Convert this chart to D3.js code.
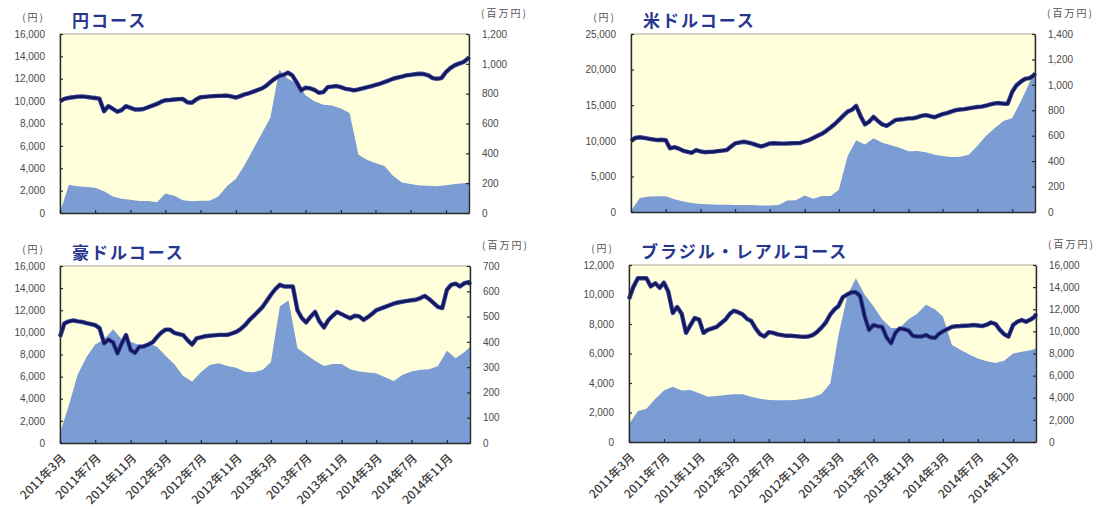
<!DOCTYPE html>
<html>
<head>
<meta charset="utf-8">
<script src="https://cdn.jsdelivr.net/npm/d3@7"></script>
<style>
  body { margin: 0; background: #fff; }
  svg { display: block; }
</style>
</head>
<body>
<div id="chart"></div>
<script>
// net assets are read monthly (first of month) plus the last valuation date
const months = [
  "2011-03-01","2011-04-01","2011-05-01","2011-06-01","2011-07-01","2011-08-01",
  "2011-09-01","2011-10-01","2011-11-01","2011-12-01","2012-01-01","2012-02-01",
  "2012-03-01","2012-04-01","2012-05-01","2012-06-01","2012-07-01","2012-08-01",
  "2012-09-01","2012-10-01","2012-11-01","2012-12-01","2013-01-01","2013-02-01",
  "2013-03-01","2013-04-01","2013-05-01","2013-06-01","2013-07-01","2013-08-01",
  "2013-09-01","2013-10-01","2013-11-01","2013-12-01","2014-01-01","2014-02-01",
  "2014-03-01","2014-04-01","2014-05-01","2014-06-01","2014-07-01","2014-08-01",
  "2014-09-01","2014-10-01","2014-11-01","2014-12-01","2015-01-01","2015-01-20"
];

// prices are read twice a month, one row = four months
const halfMonths = [
  "2011-03-01","2011-03-16","2011-04-01","2011-04-16","2011-05-01","2011-05-16","2011-06-01","2011-06-16",
  "2011-07-01","2011-07-16","2011-08-01","2011-08-16","2011-09-01","2011-09-16","2011-10-01","2011-10-16",
  "2011-11-01","2011-11-16","2011-12-01","2011-12-16","2012-01-01","2012-01-16","2012-02-01","2012-02-16",
  "2012-03-01","2012-03-16","2012-04-01","2012-04-16","2012-05-01","2012-05-16","2012-06-01","2012-06-16",
  "2012-07-01","2012-07-16","2012-08-01","2012-08-16","2012-09-01","2012-09-16","2012-10-01","2012-10-16",
  "2012-11-01","2012-11-16","2012-12-01","2012-12-16","2013-01-01","2013-01-16","2013-02-01","2013-02-16",
  "2013-03-01","2013-03-16","2013-04-01","2013-04-16","2013-05-01","2013-05-16","2013-06-01","2013-06-16",
  "2013-07-01","2013-07-16","2013-08-01","2013-08-16","2013-09-01","2013-09-16","2013-10-01","2013-10-16",
  "2013-11-01","2013-11-16","2013-12-01","2013-12-16","2014-01-01","2014-01-16","2014-02-01","2014-02-16",
  "2014-03-01","2014-03-16","2014-04-01","2014-04-16","2014-05-01","2014-05-16","2014-06-01","2014-06-16",
  "2014-07-01","2014-07-16","2014-08-01","2014-08-16","2014-09-01","2014-09-16","2014-10-01","2014-10-16",
  "2014-11-01","2014-11-16","2014-12-01","2014-12-16","2015-01-01","2015-01-16","2015-01-20"
];

// x axis ticks
const tickDates = ["2011-03-01","2011-07-01","2011-11-01","2012-03-01","2012-07-01","2012-11-01",
                   "2013-03-01","2013-07-01","2013-11-01","2014-03-01","2014-07-01","2014-11-01"];
const tickLabels = ["2011年3月","2011年7月","2011年11月","2012年3月","2012年7月","2012年11月",
                    "2013年3月","2013年7月","2013年11月","2014年3月","2014年7月","2014年11月"];

// 基準価額 (円, left axis)
const yenPrice = [
  10000,10200,10300,10350,10400,10420,10380,10320,
  10280,10220,9100,9550,9300,9050,9200,9550,
  9400,9250,9250,9300,9450,9600,9750,9950,
  10080,10100,10150,10180,10200,9900,9850,10150,
  10350,10380,10420,10450,10470,10480,10500,10420,
  10320,10450,10600,10700,10850,11000,11150,11400,
  11700,12000,12250,12350,12550,12300,11650,10950,
  11200,11150,11000,10750,10800,11250,11300,11350,
  11250,11100,11050,10960,11050,11150,11250,11350,
  11450,11550,11700,11850,12000,12100,12200,12300,
  12350,12400,12450,12420,12300,12050,12000,12050,
  12600,12950,13200,13350,13500,13800,13950
];
const usdPrice = [
  10000,10400,10500,10400,10300,10200,10100,10150,
  10100,8950,9100,8900,8600,8450,8320,8700,
  8500,8400,8450,8460,8550,8620,8700,9200,
  9630,9750,9870,9750,9600,9400,9200,9400,
  9630,9650,9630,9600,9630,9650,9680,9700,
  9900,10100,10400,10700,11000,11400,11900,12400,
  12900,13500,14100,14350,14900,13500,12300,12700,
  13350,12800,12300,12100,12500,12900,13000,13050,
  13150,13150,13300,13500,13600,13450,13300,13550,
  13750,13900,14100,14300,14400,14450,14550,14650,
  14750,14800,14950,15100,15250,15300,15200,15200,
  16900,17800,18300,18700,18800,19200,19500
];
const audPrice = [
  9600,10800,11000,11080,11000,10950,10830,10750,
  10650,10380,9000,9350,9100,8100,9000,9750,
  8400,8150,8700,8720,8900,9100,9600,10000,
  10250,10250,9950,9850,9750,9300,8900,9450,
  9550,9650,9700,9730,9770,9770,9770,9900,
  10050,10300,10650,11100,11500,11900,12330,12900,
  13400,13900,14300,14150,14150,14150,12000,11300,
  10900,11400,11850,11000,10450,11100,11500,11850,
  11650,11450,11280,11500,11450,11130,11400,11700,
  12000,12150,12300,12450,12600,12700,12780,12850,
  12900,12950,13100,13300,13000,12650,12300,12200,
  13850,14300,14400,14150,14450,14550,14300
];
const brlPrice = [
  9700,10500,11100,11100,11100,10550,10760,10450,
  10800,10200,8750,9150,8700,7400,7900,8400,
  8300,7400,7600,7700,7800,8050,8300,8700,
  8900,8800,8650,8350,8200,7700,7300,7150,
  7450,7400,7300,7250,7200,7200,7180,7150,
  7130,7150,7250,7450,7750,8100,8650,9000,
  9200,9800,10000,10150,10150,9900,8500,7600,
  7930,7850,7800,7100,6700,7400,7700,7650,
  7550,7200,7150,7150,7250,7100,7050,7350,
  7500,7650,7800,7850,7860,7880,7900,7930,
  7900,7860,7950,8100,8000,7600,7300,7150,
  7930,8150,8270,8150,8300,8500,8700
];

// 純資産総額 (百万円, right axis)
const yenAssets = [5,190,180,175,170,145,110,95,88,80,80,72,
                   130,115,85,78,82,82,110,180,230,320,430,540,
                   640,960,900,870,790,750,725,720,700,670,390,355,
                   335,315,250,205,195,185,182,180,186,195,200,205];
const usdAssets = [10,110,122,124,124,100,82,70,62,60,58,58,
                   56,55,55,52,52,55,90,92,130,105,125,125,
                   175,440,565,530,580,545,525,505,478,480,470,450,
                   440,432,434,450,520,600,660,715,740,870,1020,1100];
const audAssets = [40,150,270,340,390,410,450,410,400,388,395,380,
                   345,310,265,243,280,308,315,305,298,282,280,290,
                   320,540,565,375,350,325,305,312,312,292,283,279,
                   276,260,245,270,283,290,292,305,365,335,360,380];
const brlAssets = [1600,2800,3000,3900,4650,5000,4650,4700,4400,4100,4150,4250,
                   4320,4320,4100,3900,3800,3770,3770,3800,3900,4050,4350,5300,
                   9600,13200,14800,13300,12300,11100,10300,10300,11100,11600,12400,12000,
                   11350,8800,8350,7900,7550,7300,7150,7350,8000,8150,8300,8450];

const titles = ["円コース", "米ドルコース", "豪ドルコース", "ブラジル・レアルコース"];

const width = 1102, height = 506;
const parse = d3.timeParse("%Y-%m-%d");
const monthDays = months.map(parse);
const halfDays = halfMonths.map(parse);
const ticks = tickDates.map(parse);

const panels = [
  { title: titles[0], price: yenPrice, assets: yenAssets, leftMax: 16000, leftStep: 2000, rightMax: 1200, rightStep: 200,
    left: 60, top: 34, w: 409, h: 179, labels: false },
  { title: titles[1], price: usdPrice, assets: usdAssets, leftMax: 25000, leftStep: 5000, rightMax: 1400, rightStep: 200,
    left: 631, top: 34, w: 404, h: 178, labels: false },
  { title: titles[2], price: audPrice, assets: audAssets, leftMax: 16000, leftStep: 2000, rightMax: 700, rightStep: 100,
    left: 60, top: 266, w: 410, h: 177, labels: true },
  { title: titles[3], price: brlPrice, assets: brlAssets, leftMax: 12000, leftStep: 2000, rightMax: 16000, rightStep: 2000,
    left: 629, top: 265, w: 407, h: 177, labels: true }
];

const svg = d3.select("#chart")
  .append("svg")
  .attr("width", width)
  .attr("height", height);

const numFont = "'Liberation Sans', Arial, sans-serif";
const jpFont = "'Noto Sans CJK JP', sans-serif";

panels.forEach(p => {
  const g = svg.append("g").attr("transform", `translate(${p.left},${p.top})`);

  const x = d3.scaleTime().domain([monthDays[0], monthDays[monthDays.length - 1]]).range([0, p.w]);
  const yL = d3.scaleLinear().domain([0, p.leftMax]).range([p.h, 0]);
  const yR = d3.scaleLinear().domain([0, p.rightMax]).range([p.h, 0]);

  // plot background
  g.append("rect")
    .attr("width", p.w)
    .attr("height", p.h)
    .attr("fill", "#ffffdc")
    .attr("stroke", "#a8a590")
    .attr("stroke-width", 1);

  // net assets area
  const area = d3.area()
    .x((d, i) => x(monthDays[i]))
    .y0(p.h)
    .y1(d => yR(d));
  g.append("path")
    .datum(p.assets)
    .attr("d", area)
    .attr("fill", "#7c9dd3");

  // price line, drawn twice for the soft edge of the original
  const line = d3.line()
    .x((d, i) => x(halfDays[i]))
    .y(d => yL(d));
  g.append("path")
    .datum(p.price)
    .attr("d", line)
    .attr("fill", "none")
    .attr("stroke", "#3c4aa0")
    .attr("stroke-width", 4.4)
    .attr("stroke-linejoin", "round");
  g.append("path")
    .datum(p.price)
    .attr("d", line)
    .attr("fill", "none")
    .attr("stroke", "#14165c")
    .attr("stroke-width", 2.6)
    .attr("stroke-linejoin", "round");

  // axes
  const left = g.append("g")
    .call(d3.axisLeft(yL)
      .tickValues(d3.range(0, p.leftMax + 1, p.leftStep))
      .tickFormat(d3.format(","))
      .tickSizeInner(-3).tickSizeOuter(0).tickPadding(15));

  const right = g.append("g")
    .attr("transform", `translate(${p.w},0)`)
    .call(d3.axisRight(yR)
      .tickValues(d3.range(0, p.rightMax + 1, p.rightStep))
      .tickFormat(d3.format(","))
      .tickSizeInner(-3).tickSizeOuter(0).tickPadding(13));

  const bottom = g.append("g")
    .attr("transform", `translate(0,${p.h})`)
    .call(d3.axisBottom(x)
      .tickValues(ticks)
      .tickFormat((d, i) => p.labels ? tickLabels[i] : "")
      .tickSizeInner(-3).tickSizeOuter(0));

  [left, right, bottom].forEach(a => {
    a.select(".domain").attr("stroke", "#2a2a2a").attr("stroke-width", 1.4);
    a.selectAll(".tick line").attr("stroke", "#2a2a2a").attr("stroke-width", 1.2);
    a.selectAll(".tick text")
      .attr("fill", "#4a4a4a")
      .style("font-family", numFont)
      .style("font-size", "10px");
  });

  if (p.labels) {
    bottom.selectAll(".tick text")
      .attr("x", 0).attr("y", 0).attr("dy", "0.35em")
      .attr("text-anchor", "end")
      .attr("transform", "translate(3,13) rotate(-45)")
      .attr("fill", "#3a3a3a")
      .style("font-family", jpFont)
      .style("font-weight", "500")
      .style("font-size", "12px");
  }

  // unit labels
  g.append("text")
    .attr("x", -15).attr("y", -13)
    .attr("text-anchor", "end")
    .attr("fill", "#555")
    .style("font-family", jpFont)
    .style("font-size", "10px")
    .style("letter-spacing", "2px")
    .text("(円)");
  g.append("text")
    .attr("x", p.w + 12).attr("y", -17)
    .attr("fill", "#555")
    .style("font-family", jpFont)
    .style("font-size", "10px")
    .style("letter-spacing", "2px")
    .text("(百万円)");

  // title
  g.append("text")
    .attr("x", 12).attr("y", -7)
    .attr("fill", "#28378e")
    .style("font-family", jpFont)
    .style("font-weight", "bold")
    .style("font-size", "17px")
    .style("letter-spacing", "2px")
    .text(p.title);
});
</script>
</body>
</html>
